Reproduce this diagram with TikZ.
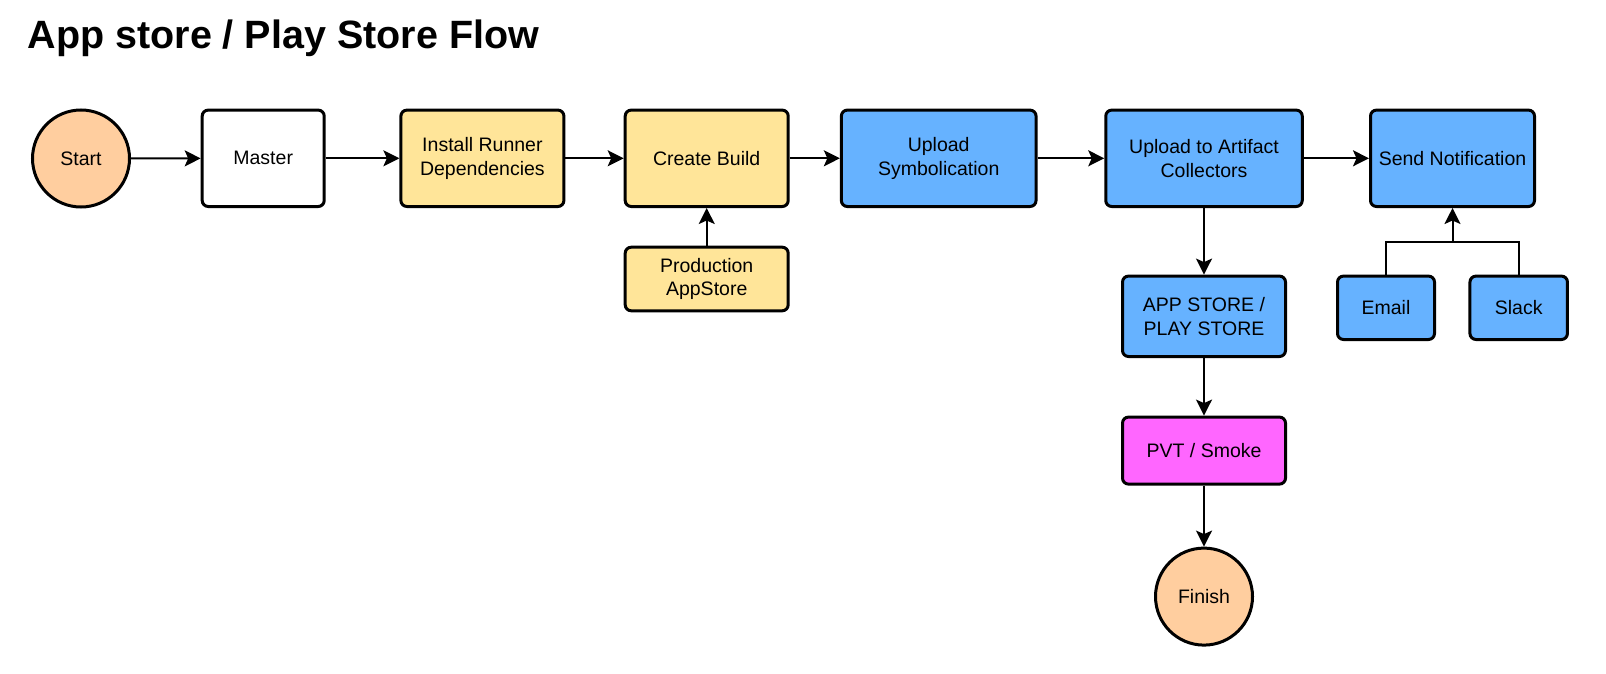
\documentclass[tikz,border=0pt]{standalone}
\usepackage{fontspec}
\setmainfont{Liberation Sans}
\usetikzlibrary{arrows.meta}
\definecolor{peach}{HTML}{FFCE9F}
\definecolor{ylw}{HTML}{FFE599}
\definecolor{blu}{HTML}{66B2FF}
\definecolor{pnk}{HTML}{FF66FF}
\begin{document}
\begin{tikzpicture}[x=1pt,y=-1pt,
  box/.style={draw, line width=3pt, rounded corners=6pt, align=center,
    font=\fontsize{19.5}{23.5}\selectfont, inner sep=0pt},
  sz/.style 2 args={minimum width=#1pt, minimum height=#2pt},
  circ/.style={draw, circle, line width=3pt, fill=peach, minimum size=97pt,
    font=\fontsize{19.5}{23.5}\selectfont, inner sep=0pt},
  conn/.style={line width=2pt, -{Stealth[length=16pt,width=16pt,inset=3.5pt]}},
  plain/.style={line width=2pt}]
\useasboundingbox (0,0) rectangle (1606,674);

\node[anchor=base west, inner sep=0pt, font=\fontsize{39.5}{47}\selectfont\bfseries] (title) at (27.5,49) {App store / Play Store Flow};

\node[circ] (start) at (81,158.5) {Start};
\node[box, sz={122}{96.4}, fill=white] (master) at (263.2,158.3) {Master};
\node[box, sz={163}{96.4}, fill=ylw] (install) at (482.4,158.3) {Install Runner\\Dependencies};
\node[box, sz={163}{96.4}, fill=ylw] (create) at (706.7,158.3) {Create Build};
\node[box, sz={163}{63.6}, fill=ylw] (prod) at (706.7,279) {Production\\AppStore};
\node[box, sz={194.7}{96.4}, fill=blu] (upsym) at (938.7,158.3) {Upload\\Symbolication};
\node[box, sz={196.5}{96.4}, fill=blu] (artifact) at (1204,158.3) {Upload to Artifact\\Collectors};
\node[box, sz={164}{96.4}, fill=blu] (send) at (1452.5,158.3) {Send Notification};
\node[box, sz={163}{80.4}, fill=blu] (appstore) at (1204,316.3) {APP STORE /\\PLAY STORE};
\node[box, sz={97}{63.4}, fill=blu] (email) at (1386,307.8) {Email};
\node[box, sz={97.5}{63.4}, fill=blu] (slack) at (1518.7,307.8) {Slack};
\node[box, sz={163}{67}, fill=pnk] (pvt) at (1204,450.6) {PVT / Smoke};
\node[circ] (finish) at (1204,596.6) {Finish};

\coordinate (jn) at (1452.5,241.7);

\draw[conn] (start) -- (master);
\draw[conn] (master) -- (install);
\draw[conn] (install) -- (create);
\draw[conn] (create) -- (upsym);
\draw[conn] (upsym) -- (artifact);
\draw[conn] (artifact) -- (send);
\draw[conn] (prod) -- (create);
\draw[conn] (artifact) -- (appstore);
\draw[conn] (appstore) -- (pvt);
\draw[conn] (pvt) -- (finish);
\draw[plain] (email.north) |- (jn);
\draw[plain] (slack.north) |- (jn);
\draw[conn] (jn) -- (send.south);
\end{tikzpicture}
\end{document}
